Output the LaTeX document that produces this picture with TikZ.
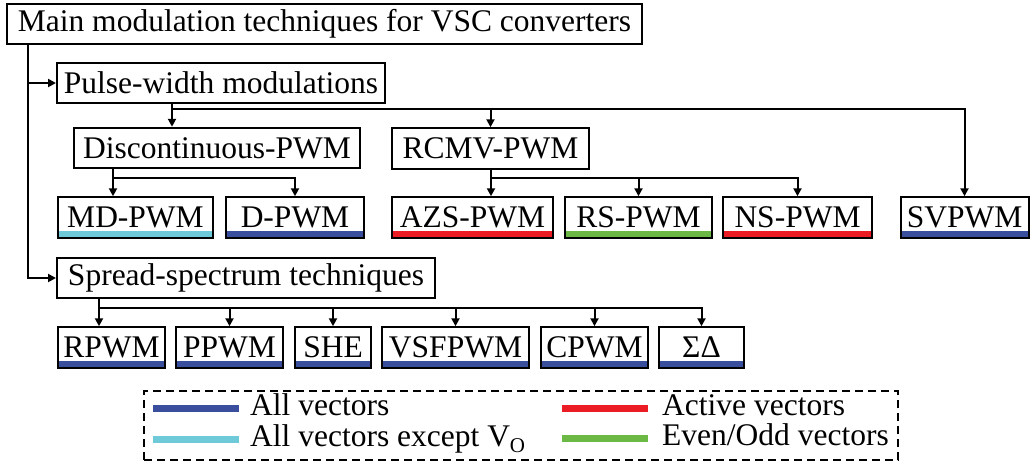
\documentclass[tikz,border=0pt]{standalone}
\usepackage{fontspec}
\setmainfont{Liberation Serif}
\usetikzlibrary{arrows.meta}
\definecolor{cblue}{HTML}{3A4E9E}
\definecolor{ccyan}{HTML}{6ECAD8}
\definecolor{cred}{HTML}{EC1C24}
\definecolor{cgreen}{HTML}{6BB845}
\tikzset{
  box/.style={draw, line width=2pt, inner sep=0pt, minimum height=40.5pt,
    font=\fontsize{31.5}{36}\selectfont},
  bar/.style={path picture={\fill[#1] (path picture bounding box.south west) rectangle ([yshift=7pt]path picture bounding box.south east);}},
  conn/.style={line width=2pt},
  arr/.style={line width=2pt, -{Triangle[length=8pt,width=8pt]}},
  legtext/.style={anchor=west, inner sep=0pt, text height=20pt, text depth=5pt,
    font=\fontsize{31.5}{36}\selectfont},
  legline/.style={line width=7pt}
}
\begin{document}
\begin{tikzpicture}[x=1pt,y=-1pt]
\useasboundingbox (0,0) rectangle (1030,463);
% top-level boxes
\node[box, minimum width=635pt] (main) at (324.5,24) {Main modulation techniques for VSC converters};
\node[box, minimum width=328pt] (pwm) at (221,83) {Pulse-width modulations};
\node[box, minimum width=286pt] (disc) at (217,148) {Discontinuous-PWM};
\node[box, minimum width=197pt] (rcmv) at (490.5,148.5) {RCMV-PWM};
\node[box, minimum width=378pt] (spread) at (246,278) {Spread-spectrum techniques};
% second row
\node[box, bar=ccyan, minimum width=155pt] (md) at (135.5,217.5) {MD-PWM};
\node[box, bar=cblue, minimum width=138pt] (d) at (295,217.5) {D-PWM};
\node[box, bar=cred, minimum width=161pt] (azs) at (472.5,217.5) {AZS-PWM};
\node[box, bar=cgreen, minimum width=147pt] (rs) at (638.5,217.5) {RS-PWM};
\node[box, bar=cred, minimum width=149pt] (ns) at (797.5,217.5) {NS-PWM};
\node[box, bar=cblue, minimum width=128pt] (sv) at (964.5,217.5) {SVPWM};
% spread-spectrum row
\node[box, bar=cblue, minimum width=107pt] (rp) at (111.5,347.5) {RPWM};
\node[box, bar=cblue, minimum width=107pt] (pp) at (229.5,347.5) {PPWM};
\node[box, bar=cblue, minimum width=76pt] (she) at (333,347.5) {SHE};
\node[box, bar=cblue, minimum width=147pt] (vsf) at (455.5,347.5) {VSFPWM};
\node[box, bar=cblue, minimum width=107pt] (cp) at (594.5,347.5) {CPWM};
\node[box, bar=cblue, minimum width=85pt] (sd) at (701.5,347.5) {ΣΔ};
% connectors
\coordinate (t) at (28,44);
\draw[arr] (main.south -| t) |- (spread.west);
\draw[arr] (pwm.west -| t) -- (pwm.west);
\coordinate (j1) at (172,109);
\draw[arr] (pwm.south -| j1) -- (j1) -| (sv.north);
\draw[arr] (j1) -- (disc.north -| j1);
\draw[arr] (rcmv.north |- j1) -- (rcmv.north);
\coordinate (j2) at (113,178);
\draw[arr] (disc.south -| j2) -- (j2) -| (d.north);
\draw[arr] (j2) -- (md.north -| j2);
\coordinate (j3) at (491,178);
\draw[arr] (rcmv.south -| j3) -- (j3) -| (ns.north);
\draw[arr] (j3) -- (azs.north -| j3);
\draw[arr] (rs.north |- j3) -- (rs.north);
\coordinate (j4) at (99,308);
\draw[arr] (spread.south -| j4) -- (j4) -| (sd.north);
\draw[arr] (j4) -- (rp.north -| j4);
\foreach \n in {pp,she,vsf,cp} \draw[arr] (\n.north |- j4) -- (\n.north);
% legend
\node[draw, dashed, line width=2pt, dash pattern=on 8pt off 5pt, minimum width=754pt, minimum height=69pt, inner sep=0pt] (legend) at (521,425.5) {};
\draw[legline, cblue] (153,408) -- (239,408);
\draw[legline, ccyan] (153,439) -- (239,439);
\draw[legline, cred] (562,408) -- (648,408);
\draw[legline, cgreen] (562,438) -- (648,438);
\node[legtext] (l1) at (250,408) {All vectors};
\node[legtext] (l2) at (250,439) {All vectors except V\raisebox{-6pt}{\fontsize{21}{21}\selectfont O}};
\node[legtext] (l3) at (662,408) {Active vectors};
\node[legtext] (l4) at (662,438) {Even/Odd vectors};
\end{tikzpicture}
\end{document}
